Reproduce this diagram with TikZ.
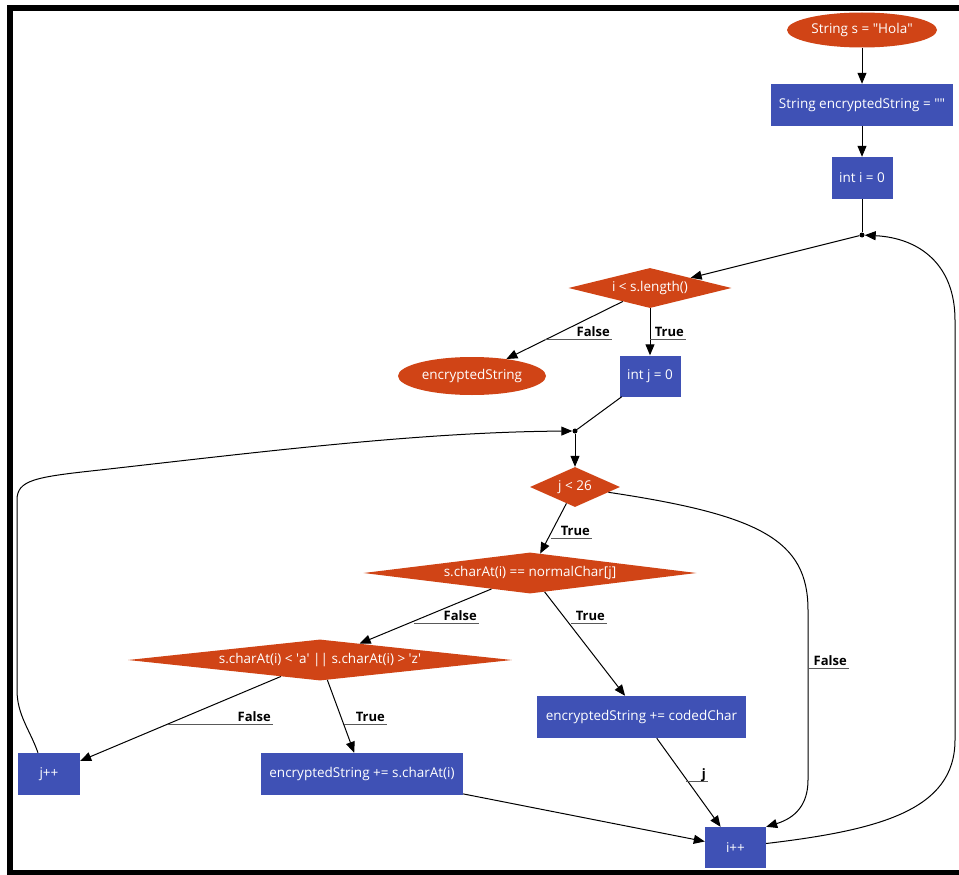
\documentclass[tikz,border=0pt]{standalone}
\usepackage{fontspec}
\setmainfont{Open Sans}
\usetikzlibrary{shapes.geometric,arrows.meta}
\definecolor{flowred}{RGB}{208,68,22}
\definecolor{flowblue}{RGB}{63,81,181}
\begin{document}
\begin{tikzpicture}[x=1pt,y=-1pt,
  font=\fontsize{13.5}{15}\selectfont,
  proc/.style={rectangle, fill=flowblue, text=white, inner sep=0pt, minimum height=42pt},
  term/.style={ellipse, fill=flowred, text=white, inner sep=0pt},
  cond/.style={diamond, fill=flowred, text=white, inner sep=0pt},
  junction/.style={circle, fill=black, inner sep=0pt, minimum size=5pt},
  flow/.style={draw=black, line width=1pt, -{Triangle[length=11pt,width=9pt]}},
  plain/.style={draw=black, line width=1pt},
  lbl/.style={font=\fontsize{13}{15}\selectfont\bfseries, inner xsep=2pt, inner ysep=0pt, anchor=base east},
  uline/.style={draw=black!65, line width=1pt}
]
\useasboundingbox (0,0) rectangle (959,875);

% frame
\fill[black] (7,5) rectangle (959,11);
\fill[black] (7,5) rectangle (12.5,875);
\fill[black] (7,870) rectangle (959,875);

% nodes
\node[term, minimum width=150pt, minimum height=35pt] (start) at (862,30) {String s = \textquotedbl Hola\textquotedbl};
\node[proc, minimum width=182pt] (enc) at (862,105) {String encryptedString = \textquotedbl\textquotedbl};
\node[proc, minimum width=61pt] (iinit) at (862,178) {int i = 0};
\node[junction] (idot) at (862,235) {};
\node[cond, minimum width=163pt, minimum height=40pt, shape aspect=4.075] (ilen) at (650,288) {i < s.length()};
\node[term, minimum width=148pt, minimum height=38pt] (out) at (472,376) {encryptedString};
\node[proc, minimum width=61pt, minimum height=41pt] (jinit) at (650,376) {int j = 0};
\node[junction] (jdot) at (575,431) {};
\node[cond, minimum width=90pt, minimum height=40pt, shape aspect=2.25] (jlt) at (575,487) {j < 26};
\node[cond, minimum width=333pt, minimum height=41pt, shape aspect=8.1] (match) at (530,573) {s.charAt(i) == normalChar[j]};
\node[cond, minimum width=384pt, minimum height=41pt, shape aspect=9.4] (range) at (320,660) {s.charAt(i) < \textquotesingle a\textquotesingle{} || s.charAt(i) > \textquotesingle z\textquotesingle};
\node[proc, minimum width=209pt] (coded) at (641.5,717) {encryptedString += codedChar};
\node[proc, minimum width=62pt] (jinc) at (49,774) {j++};
\node[proc, minimum width=202pt] (keep) at (362,774) {encryptedString += s.charAt(i)};
\node[proc, minimum width=61pt, minimum height=41pt] (iinc) at (735.5,847.5) {i++};

% straight connectors
\draw[flow] (start) -- (enc);
\draw[flow] (enc) -- (iinit);
\draw[plain] (iinit) -- (idot);
\draw[flow] (idot) -- (ilen);
\draw[flow] (ilen) -- (out);
\draw[flow] (ilen) -- (jinit);
\draw[plain] (jinit) -- (jdot);
\draw[flow] (jdot) -- (jlt);
\draw[flow] (jlt) -- (match);
\draw[flow] (match) -- (range);
\draw[flow] (match) -- (coded);
\draw[flow] (range) -- (jinc);
\draw[flow] (range) -- (keep);
\draw[flow] (coded) -- (iinc);
\draw[flow] (keep) -- (iinc);

% loop-back and exit curves
\draw[flow] (jlt.-9) .. controls (760,515) and (808,540) .. (808,610)
  -- (808,780) .. controls (808,805) and (795,818) .. (iinc.north east);
\draw[flow] ([yshift=4pt]iinc.east) .. controls (880,830) and (955,810) .. (955,740)
  -- (955,320) .. controls (955,265) and (920,238) .. (idot);
\draw[flow] ([xshift=-11pt]jinc.north) .. controls (30,730) and (17,715) .. (17,690)
  -- (17,500) .. controls (17,480) and (35,477) .. (100,470)
  .. controls (260,452) and (420,432) .. (jdot);

% edge labels with underlines
\coordinate (u1) at (545,339);
\node[lbl] (l1) at (612,336) {False};
\draw[uline] (u1) -- (u1 -| l1.base east);
\coordinate (u2) at (650,339);
\node[lbl] (l2) at (686,336) {True};
\draw[uline] (u2) -- (u2 -| l2.base east);
\coordinate (u3) at (551,538);
\node[lbl] (l3) at (592,535) {True};
\draw[uline] (u3) -- (u3 -| l3.base east);
\coordinate (u4) at (414,623);
\node[lbl] (l4) at (479,620) {False};
\draw[uline] (u4) -- (u4 -| l4.base east);
\coordinate (u5) at (571,623);
\node[lbl] (l5) at (607,620) {True};
\draw[uline] (u5) -- (u5 -| l5.base east);
\coordinate (u6) at (168,724);
\node[lbl] (l6) at (273,721) {False};
\draw[uline] (u6) -- (u6 -| l6.base east);
\coordinate (u7) at (344,724);
\node[lbl] (l7) at (387,721) {True};
\draw[uline] (u7) -- (u7 -| l7.base east);
\coordinate (u8) at (808,668);
\node[lbl] (l8) at (849,665) {False};
\draw[uline] (u8) -- (u8 -| l8.base east);
\coordinate (u9) at (686,781);
\node[lbl] (l9) at (708,778) {j};
\draw[uline] (u9) -- (u9 -| l9.base east);
\end{tikzpicture}
\end{document}
